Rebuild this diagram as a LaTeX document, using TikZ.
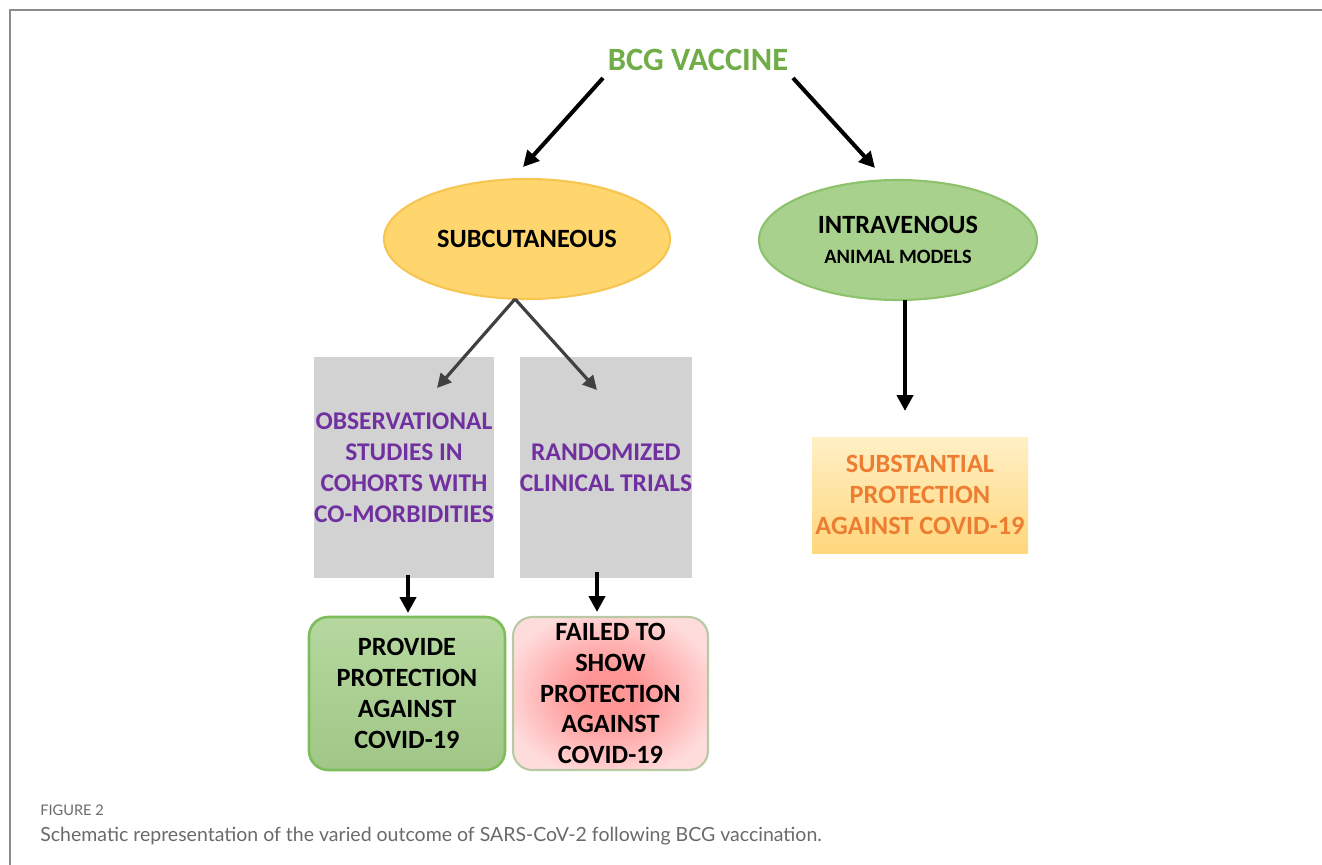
\documentclass[tikz,border=0pt]{standalone}
\usepackage{fontspec}
\setmainfont{Carlito}
\newfontfamily\capfont{Lato}
\usetikzlibrary{shapes.geometric,arrows.meta}
\pgfdeclarelayer{bg}
\pgfsetlayers{bg,main}
\definecolor{titlegreen}{HTML}{70AD47}
\definecolor{purp}{HTML}{7030A0}
\definecolor{orng}{HTML}{ED7D31}
\definecolor{greybox}{HTML}{D2D2D2}
\definecolor{subfill}{HTML}{FFD66E}
\definecolor{subdraw}{HTML}{F7C552}
\definecolor{ivfill}{HTML}{A9D18E}
\definecolor{ivdraw}{HTML}{8DC26D}
\definecolor{provfill}{HTML}{A9D18E}
\definecolor{provdraw}{HTML}{7DBE5B}
\definecolor{failin}{HTML}{FF9696}
\definecolor{failmid}{HTML}{FFB4B4}
\definecolor{failout}{HTML}{FFDCDC}
\definecolor{failborder}{HTML}{B9C9A3}
\definecolor{framegrey}{HTML}{8C8C8C}
\definecolor{capgrey}{HTML}{6A6A6A}
\definecolor{darkarrow}{HTML}{404040}
\definecolor{substtop}{HTML}{FFF0C6}
\definecolor{substbot}{HTML}{FFD77C}
\pgfdeclareradialshading{failshade}{\pgfpoint{0bp}{0bp}}{color(0bp)=(failin); color(8bp)=(failin); color(17bp)=(failmid); color(28bp)=(failout); color(50bp)=(failout)}
\begin{document}
\begin{tikzpicture}[x=0.02cm,y=-0.02cm,
  boxtext/.style={font=\bfseries\fontsize{15}{17.6}\selectfont, align=center, inner sep=0pt},
  ell/.style={ellipse, line width=1.2pt, boxtext},
  arr/.style={line width=2.3pt, -{Triangle[length=9pt,width=9pt]}},
  darr/.style={line width=1.8pt, darkarrow, -{Triangle[length=8pt,width=8pt]}},
  fuzzy/.style={rectangle, inner sep=0pt, boxtext}]
\useasboundingbox (0,0) rectangle (1322,865);
\fill[white] (0,0) rectangle (1322,865);
\draw[framegrey, line width=1.2pt] (10,865) -- (10,10) -- (1322,10);

% title
\node[boxtext, text=titlegreen, font=\bfseries\fontsize{18.5}{20}\selectfont] (bcg) at (698,60) {BCG VACCINE};

% ellipses
\node[ell, fill=subfill, draw=subdraw, minimum width=286*0.02cm, minimum height=120*0.02cm] (sub) at (527,239) {SUBCUTANEOUS};
\node[ell, fill=ivfill, draw=ivdraw, minimum width=278*0.02cm, minimum height=120*0.02cm] (iv) at (898,240) {INTRAVENOUS\\[-1pt]{\fontsize{11.6}{13}\selectfont ANIMAL MODELS}};

% halos
\begin{pgfonlayer}{bg}
\foreach \k/\o in {2/0.4,4/0.22,6/0.1}{
  \fill[greybox, opacity=\o] (318-\k,357-\k) rectangle (490+\k,578+\k);
  \fill[greybox, opacity=\o] (522-\k,357-\k) rectangle (690+\k,578+\k);
}
\foreach \k/\o in {2/0.4,4/0.25,6/0.15,8/0.08}{
  \fill[substbot!60!white, opacity=\o] (812-\k,437-\k) rectangle (1028+\k,553+\k);
}
\end{pgfonlayer}

% grey boxes
\node[fuzzy, fill=greybox, text=purp, font=\bfseries\fontsize{14.5}{17.6}\selectfont, minimum width=172*0.02cm, minimum height=221*0.02cm] (obs) at (404,467.5)
  {OBSERVATIONAL\\STUDIES IN\\COHORTS WITH\\CO-MORBIDITIES};
\node[fuzzy, fill=greybox, text=purp, font=\bfseries\fontsize{14.5}{17.6}\selectfont, minimum width=168*0.02cm, minimum height=221*0.02cm] (rct) at (606,467.5)
  {RANDOMIZED\\CLINICAL TRIALS};

% outcome boxes
\node[boxtext, rounded corners=11pt, draw=provdraw, line width=1.5pt, top color=provfill!85!white, bottom color=provfill!95!black,
  minimum width=196*0.02cm, minimum height=153*0.02cm] (prov) at (407,693.5)
  {PROVIDE\\PROTECTION\\AGAINST\\COVID-19};
\node[boxtext, rounded corners=11pt, draw=failborder, line width=1.2pt, shading=failshade,
  minimum width=195*0.02cm, minimum height=153*0.02cm] (fail) at (610.5,693.5)
  {FAILED TO\\SHOW\\PROTECTION\\AGAINST\\COVID-19};
\node[fuzzy, top color=substtop, bottom color=substbot, text=orng, minimum width=216*0.02cm, minimum height=116*0.02cm] (subst) at (920,495)
  {SUBSTANTIAL\\PROTECTION\\AGAINST COVID-19};

% arrow end points
\coordinate (b1) at (603,78);  \coordinate (s1) at (523,167);
\coordinate (b2) at (793,78);  \coordinate (i1) at (875,168);
\coordinate (st) at (515,299);
\coordinate (o1) at (437,388); \coordinate (r1) at (597,390);
\coordinate (o2) at (408,575); \coordinate (p1) at (408,613);
\coordinate (r2) at (597,572); \coordinate (f1) at (597,612);
\coordinate (iv1) at (905,300); \coordinate (sb1) at (905,411);

\draw[arr] (b1) -- (s1);
\draw[arr] (b2) -- (i1);
\draw[darr] (st) -- (o1);
\draw[darr] (st) -- (r1);
\draw[arr] (o2) -- (p1);
\draw[arr] (r2) -- (f1);
\draw[arr] (iv1) -- (sb1);

% caption
\node[anchor=base west, inner sep=0pt, text=capgrey, font=\capfont\fontsize{8.3}{10}\selectfont] (fig) at (40,815) {FIGURE 2};
\node[anchor=base west, inner sep=0pt, text=capgrey, font=\capfont\fontsize{11.1}{13}\selectfont] (cap) at (40,841)
  {Schematic representation of the varied outcome of SARS-CoV-2 following BCG vaccination.};
\end{tikzpicture}
\end{document}
